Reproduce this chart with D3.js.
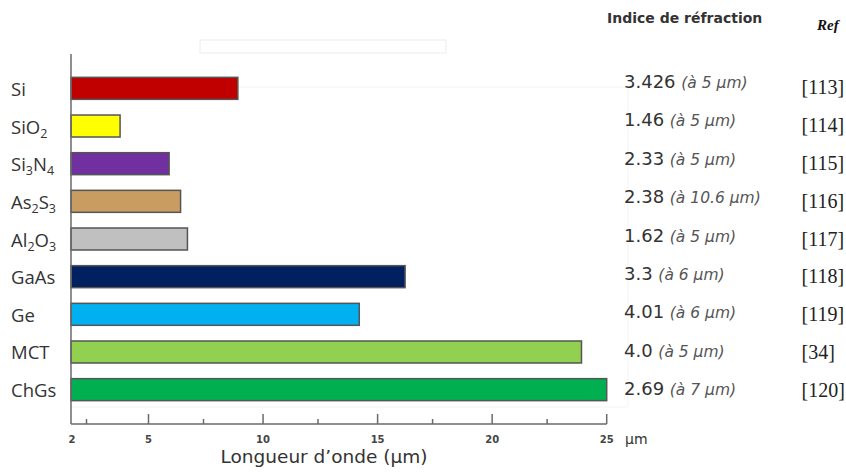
<!DOCTYPE html>
<html>
<head>
<meta charset="utf-8">
<script src="https://cdn.jsdelivr.net/npm/d3@7"></script>
<style>
  html, body { margin: 0; padding: 0; background: #fff; }
  svg { display: block; }
</style>
</head>
<body>
<svg id="chart" width="846" height="475"></svg>
<script>
// ---- data ----
const materials = ["Si", "SiO_2", "Si_3N_4", "As_2S_3", "Al_2O_3", "GaAs", "Ge", "MCT", "ChGs"];
const maxWavelength = [8.9, 3.9, 5.9, 6.4, 6.7, 16.2, 14.2, 23.9, 25];
const refractiveIndex = ["3.426", "1.46", "2.33", "2.38", "1.62", "3.3", "4.01", "4.0", "2.69"];
const indexAt = ["à 5 µm", "à 5 µm", "à 5 µm", "à 10.6 µm", "à 5 µm", "à 6 µm", "à 6 µm", "à 5 µm", "à 7 µm"];
const references = ["[113]", "[114]", "[115]", "[116]", "[117]", "[118]", "[119]", "[34]", "[120]"];
const majorTicks = [2, 5, 10, 15, 20, 25];
const minorTicks = [2.6, 7.4, 12.4, 17.4, 22.4];
const barColors = ["#C00000", "#FFFF00", "#7030A0", "#C99C62", "#C0C0C0", "#002060", "#00B0F0", "#92D050", "#00B050"];

// ---- layout ----
const svg = d3.select("#chart");
const x = d3.scaleLinear().domain([2, 5, 25]).range([71, 148.5, 606.7]);
const y = d3.scaleBand().domain(materials).range([54, 424]).paddingInner(0.416).paddingOuter(0.62);
const yIndex = d3.scalePoint().domain(materials).range([88, 395]);
const yRef = d3.scalePoint().domain(materials).range([94, 397]);
const axisY = 424;

// faint background artefacts
svg.append("rect").attr("x", 200).attr("y", 40).attr("width", 246).attr("height", 13)
  .attr("fill", "none").attr("stroke", "#efefef").attr("stroke-width", 1.2);
svg.append("path")
  .attr("d", `M${x(2)},87 H628 V407 H${x(2)}`)
  .attr("fill", "none").attr("stroke", "#f3f3f3").attr("stroke-width", 1);

// bars
svg.append("g").selectAll("rect").data(materials).join("rect")
  .attr("x", x(2))
  .attr("y", d => y(d))
  .attr("width", (d, i) => x(maxWavelength[i]) - x(2))
  .attr("height", y.bandwidth())
  .attr("fill", (d, i) => barColors[i])
  .attr("stroke", "#555")
  .attr("stroke-width", 1.5);

// axes lines
const axisG = svg.append("g").attr("stroke", "#6a6a6a").attr("stroke-width", 1.5).attr("fill", "none");
axisG.append("line").attr("x1", x(2)).attr("x2", x(2)).attr("y1", 54).attr("y2", axisY);
axisG.append("line").attr("x1", x(2)).attr("x2", x(25)).attr("y1", axisY).attr("y2", axisY);
axisG.selectAll(".maj").data(majorTicks.filter(t => t > 2)).join("line")
  .attr("x1", d => x(d)).attr("x2", d => x(d)).attr("y1", axisY - 10).attr("y2", axisY);
axisG.selectAll(".min").data(minorTicks).join("line")
  .attr("x1", d => x(d)).attr("x2", d => x(d)).attr("y1", axisY - 5).attr("y2", axisY);

// tick labels
svg.append("g").selectAll("text").data(majorTicks).join("text")
  .attr("x", d => x(d) + (d === 2 ? 1 : 0))
  .attr("y", 443)
  .attr("text-anchor", "middle")
  .attr("font-family", "DejaVu Sans")
  .attr("font-weight", "bold")
  .attr("font-size", 10)
  .attr("fill", "#444")
  .text(d => d);
svg.append("text").attr("x", 625).attr("y", 444)
  .attr("font-family", "DejaVu Sans").attr("font-size", 14).attr("fill", "#333").text("µm");
svg.append("text").attr("x", 324).attr("y", 463).attr("text-anchor", "middle")
  .attr("font-family", "DejaVu Sans").attr("font-size", 18.5).attr("fill", "#333")
  .text("Longueur d’onde (µm)");

// category labels with subscripts
const labG = svg.append("g");
materials.forEach(m => {
  const t = labG.append("text")
    .attr("x", 11)
    .attr("y", y(m) + y.bandwidth() / 2 + 7.5)
    .attr("font-family", "Open Sans")
    .attr("font-size", 18.5)
    .attr("fill", "#333");
  const parts = m.split(/_(\d)/);
  parts.forEach((p, i) => {
    if (!p) return;
    if (i % 2 === 1) {
      t.append("tspan").attr("font-size", 12.5).attr("dy", 4).text(p);
    } else {
      const ts = t.append("tspan").text(p);
      if (i > 0) ts.attr("dy", -4);
    }
  });
});

// headers
svg.append("text").attr("x", 607).attr("y", 23)
  .attr("font-family", "DejaVu Sans").attr("font-weight", "bold").attr("font-size", 14)
  .attr("fill", "#333").text("Indice de réfraction");
svg.append("text").attr("x", 817).attr("y", 30)
  .attr("font-family", "Liberation Serif").attr("font-weight", "bold").attr("font-style", "italic")
  .attr("font-size", 15).attr("fill", "#111").text("Ref");

// index values
const idxG = svg.append("g");
materials.forEach((m, i) => {
  const t = idxG.append("text").attr("x", 624).attr("y", yIndex(m))
    .attr("font-family", "DejaVu Sans").attr("fill", "#333");
  t.append("tspan").attr("font-size", 18).text(refractiveIndex[i] + " ");
  t.append("tspan").attr("font-size", 15.5).attr("font-style", "italic").attr("fill", "#555")
    .text("(" + indexAt[i] + ")");
  idxG.append("text").attr("x", 801.5).attr("y", yRef(m))
    .attr("font-family", "Liberation Serif").attr("font-size", 20).attr("fill", "#222")
    .text(references[i]);
});
</script>
</body>
</html>
